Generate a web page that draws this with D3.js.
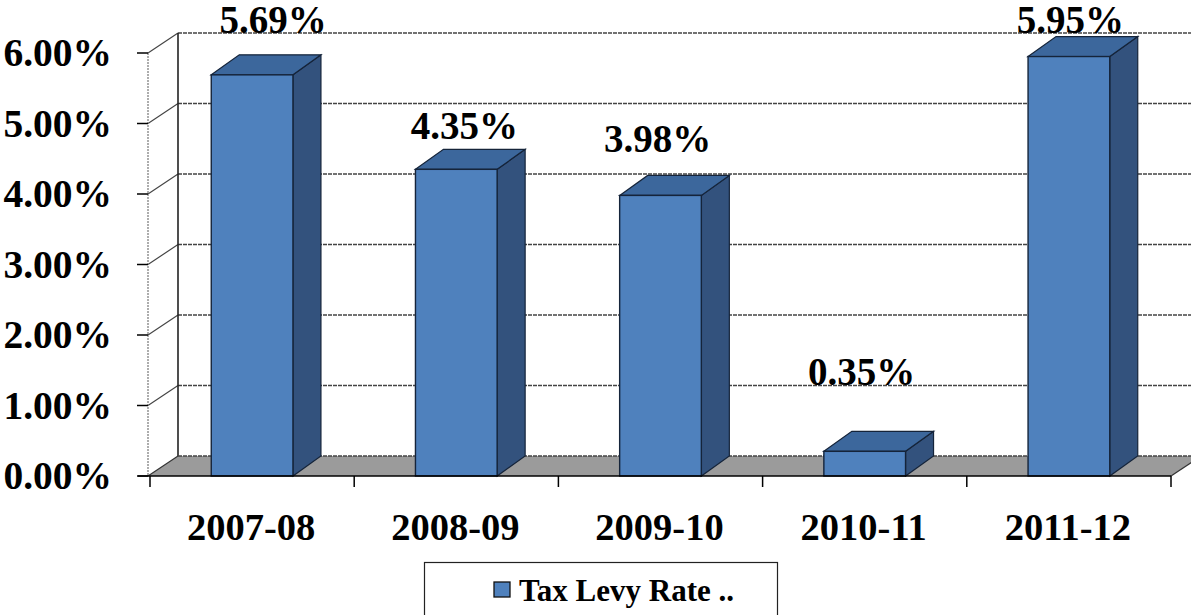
<!DOCTYPE html>
<html>
<head>
<meta charset="utf-8">
<script src="https://cdn.jsdelivr.net/npm/d3@7"></script>
<style>
  html, body { margin: 0; padding: 0; background: #fff; }
  svg { display: block; }
  text { font-family: "Liberation Serif", "Times New Roman", serif; font-weight: bold; fill: #000; }
</style>
</head>
<body>
<svg id="chart" width="1191" height="615"></svg>
<script>
// ---- data ----
const categories = ["2007-08", "2008-09", "2009-10", "2010-11", "2011-12"];
const taxLevyRate = [5.69, 4.35, 3.98, 0.35, 5.95];
const yTickValues = [0, 1, 2, 3, 4, 5, 6];
const seriesName = "Tax Levy Rate ..";

// ---- layout ----
const W = 1191, H = 615;
const plotLeft = 148, plotRight = 1171, baseY = 476, topY = 53;
const depthX = 30, depthY = -20;      // wall / floor depth
const barDX = 28, barDY = -20;        // bar depth
// label nudges (Excel hand-placed data labels)
const labelDX = [21, 8, -3, -3, 1.5];
const labelDY = [-42, -30, -43, -66, -23.5];

const svg = d3.select("#chart");

const y = d3.scaleLinear().domain([0, 6]).range([baseY, topY]);
const x = d3.scaleBand().domain(categories).range([plotLeft + 2, plotRight])
  .paddingInner(0.6).paddingOuter(0.3);
const xTick = d3.scaleBand().domain(categories).range([plotLeft + 2, plotRight]).padding(0);

const fmt = v => d3.format(".2f")(v) + "%";

// back wall gridlines
svg.append("g").selectAll("line.grid").data(yTickValues.filter(v => v > 0)).join("line")
  .attr("x1", plotLeft + depthX).attr("x2", W)
  .attr("y1", d => y(d) + depthY).attr("y2", d => y(d) + depthY)
  .attr("stroke", "#444").attr("stroke-width", 1.4).attr("stroke-dasharray", "4,1");

// left wall diagonals
svg.append("g").selectAll("line.diag").data(yTickValues.filter(v => v > 0)).join("line")
  .attr("x1", plotLeft).attr("x2", plotLeft + depthX)
  .attr("y1", d => y(d)).attr("y2", d => y(d) + depthY)
  .attr("stroke", "#444").attr("stroke-width", 1.2);

// left wall edges
svg.append("line")
  .attr("x1", plotLeft + depthX).attr("x2", plotLeft + depthX)
  .attr("y1", y(6) + depthY).attr("y2", baseY + depthY)
  .attr("stroke", "#222").attr("stroke-width", 1.6);
svg.append("line")
  .attr("x1", plotLeft).attr("x2", plotLeft)
  .attr("y1", y(6)).attr("y2", baseY)
  .attr("stroke", "#777").attr("stroke-width", 1.2).attr("stroke-dasharray", "2,1");

// floor
svg.append("polygon")
  .attr("points", [
    [plotLeft, baseY], [plotRight, baseY],
    [plotRight + depthX, baseY + depthY], [plotLeft + depthX, baseY + depthY]
  ].map(p => p.join(",")).join(" "))
  .attr("fill", "#9b9b9b").attr("stroke", "none");
svg.append("line")
  .attr("x1", plotLeft + depthX).attr("x2", plotRight + depthX)
  .attr("y1", baseY + depthY).attr("y2", baseY + depthY)
  .attr("stroke", "#444").attr("stroke-width", 1.4).attr("stroke-dasharray", "4,1");
svg.append("line")
  .attr("x1", plotLeft).attr("x2", plotLeft + depthX)
  .attr("y1", baseY).attr("y2", baseY + depthY)
  .attr("stroke", "#333").attr("stroke-width", 1.2);
svg.append("line")
  .attr("x1", plotRight).attr("x2", plotRight + depthX)
  .attr("y1", baseY).attr("y2", baseY + depthY)
  .attr("stroke", "#333").attr("stroke-width", 1.2);

// bars
const bars = svg.append("g").selectAll("g.bar").data(categories.map((c, i) => ({c, v: taxLevyRate[i], i}))).join("g");
bars.append("polygon") // side
  .attr("points", d => {
    const x1 = x(d.c) + x.bandwidth(), yt = y(d.v);
    return [[x1, yt], [x1 + barDX, yt + barDY], [x1 + barDX, baseY + barDY], [x1, baseY]].map(p => p.join(",")).join(" ");
  })
  .attr("fill", "#33527d").attr("stroke", "#15243a").attr("stroke-width", 1.2);
bars.append("polygon") // top
  .attr("points", d => {
    const x0 = x(d.c), x1 = x0 + x.bandwidth(), yt = y(d.v);
    return [[x0, yt], [x0 + barDX, yt + barDY], [x1 + barDX, yt + barDY], [x1, yt]].map(p => p.join(",")).join(" ");
  })
  .attr("fill", "#3c679c").attr("stroke", "#15243a").attr("stroke-width", 1.2);
bars.append("rect") // front
  .attr("x", d => x(d.c)).attr("width", x.bandwidth())
  .attr("y", d => y(d.v)).attr("height", d => baseY - y(d.v))
  .attr("fill", "#4f81bd").attr("stroke", "#15243a").attr("stroke-width", 1.4);

// front x axis line and ticks
svg.append("line")
  .attr("x1", plotLeft - 10).attr("x2", plotRight)
  .attr("y1", baseY).attr("y2", baseY)
  .attr("stroke", "#000").attr("stroke-width", 1.3);
const tickXs = categories.map(c => xTick(c)).concat([xTick(categories[categories.length - 1]) + xTick.step()]);
svg.append("g").selectAll("line").data(tickXs).join("line")
  .attr("x1", d => d).attr("x2", d => d)
  .attr("y1", baseY).attr("y2", baseY + 11)
  .attr("stroke", "#000").attr("stroke-width", 1.5);

// y ticks
svg.append("g").selectAll("line").data(yTickValues).join("line")
  .attr("x1", plotLeft - 11).attr("x2", plotLeft)
  .attr("y1", d => y(d)).attr("y2", d => y(d))
  .attr("stroke", "#000").attr("stroke-width", 1.5);

// y tick labels
svg.append("g").selectAll("text").data(yTickValues).join("text")
  .attr("x", 112).attr("y", d => y(d)).attr("dy", "0.34em")
  .attr("text-anchor", "end").style("font-size", "39.5px")
  .text(d => fmt(d));

// category labels
svg.append("g").selectAll("text").data(categories).join("text")
  .attr("x", d => xTick(d) + xTick.bandwidth() / 2 - 1).attr("y", 540)
  .attr("text-anchor", "middle").style("font-size", "38.5px")
  .text(d => d);

// value labels
svg.append("g").selectAll("text").data(categories.map((c, i) => ({c, v: taxLevyRate[i], i}))).join("text")
  .attr("x", d => x(d.c) + x.bandwidth() / 2 + labelDX[d.i])
  .attr("y", d => y(d.v) + labelDY[d.i])
  .attr("text-anchor", "middle").style("font-size", "39px")
  .text(d => fmt(d.v));

// legend
const lg = svg.append("g");
lg.append("rect").attr("x", 424.5).attr("y", 562.5).attr("width", 353).attr("height", 70)
  .attr("fill", "#fff").attr("stroke", "#222").attr("stroke-width", 1.2);
lg.append("rect").attr("x", 494).attr("y", 582).attr("width", 16).attr("height", 15)
  .attr("fill", "#4f81bd").attr("stroke", "#111").attr("stroke-width", 1.3);
lg.append("text").attr("x", 519).attr("y", 601).style("font-size", "31px").text(seriesName);
</script>
</body>
</html>
